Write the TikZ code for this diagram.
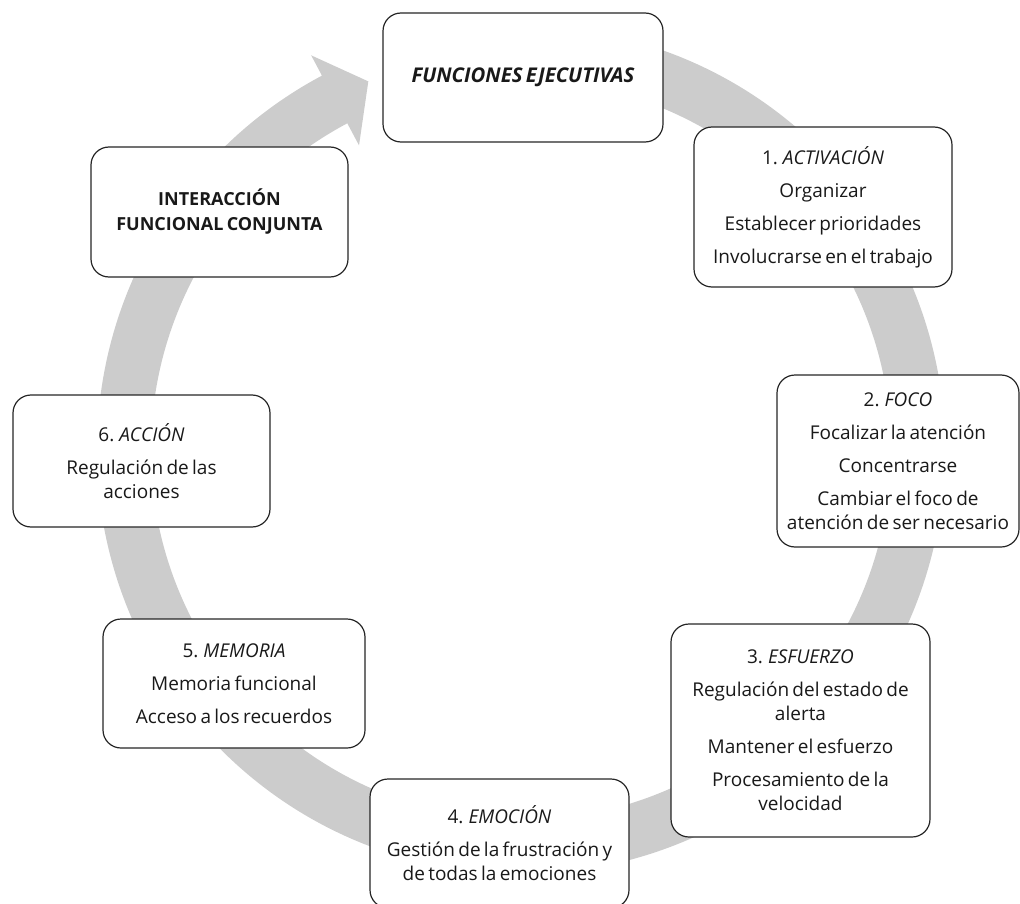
\documentclass[tikz,border=0pt]{standalone}
\usepackage{fontspec}
\setmainfont{Open Sans}
\usepackage{tikz}
\usetikzlibrary{shapes,arrows,positioning,calc}
\newcommand{\stagefont}{\fontsize{19}{24}\selectfont}
\newcommand{\titlefont}{\fontsize{20.3}{25}\selectfont}
\newcommand{\jointfont}{\fontsize{18}{25}\selectfont}
\tikzstyle{stage} = [rectangle, draw=black!85, line width=1.2pt, fill=white, inner sep=0pt, text width=258pt, text centered, text=black!90, rounded corners=18pt, minimum height=129pt, execute at begin node=\stagefont]
\tikzstyle{ring} = [fill=black!20]

\begin{document}
\begin{tikzpicture}[x=1pt, y=-1pt]
	\useasboundingbox (0,0) rectangle (1020,904);
	%Circular arrow behind the boxes
	\coordinate (Center) at (521,450);
	\fill [ring] ($(Center)+(-80:424)$) arc [start angle=-80, end angle=242, radius=424]
		-- ($(Center)+(242:447)$) -- ($(Center)+(247.5:399)$) -- ($(Center)+(242:345)$)
		-- ($(Center)+(242:370)$) arc [start angle=242, end angle=-80, radius=370] -- cycle;

	%Place nodes
	\node [stage, text width=280pt, execute at begin node=\titlefont] (Funciones) at (523,77.5) {\textbf{\textit{FUNCIONES EJECUTIVAS}}};
	\node [stage, minimum height=160pt] (Activacion) at (823,207) {1. \textit{ACTIVACIÓN}\\[9pt] Organizar\\[9pt] Establecer prioridades\\[9pt] Involucrarse en el trabajo};
	\node [stage, text width=242pt, minimum height=172pt] (Foco) at (898,461) {2. \textit{FOCO}\\[9pt] Focalizar la atención\\[9pt] Concentrarse\\[9pt] Cambiar el foco de\\ atención de ser necesario};
	\node [stage, text width=259pt, minimum height=213pt] (Esfuerzo) at (800.5,730.5) {3. \textit{ESFUERZO}\\[9pt] Regulación del estado de\\ alerta\\[9pt] Mantener el esfuerzo\\[9pt] Procesamiento de la\\ velocidad};
	\node [stage, text width=259pt] (Emocion) at (499.5,843.5) {4. \textit{EMOCIÓN}\\[9pt] Gestión de la frustración y\\ de todas la emociones};
	\node [stage, text width=262pt] (Memoria) at (234,683.5) {5. \textit{MEMORIA}\\[9pt] Memoria funcional\\[9pt] Acceso a los recuerdos};
	\node [stage, text width=257pt, minimum height=132pt] (Accion) at (141.5,461) {6. \textit{ACCIÓN}\\[9pt] Regulación de las\\ acciones};
	\node [stage, text width=257pt, minimum height=130pt, execute at begin node=\jointfont] (Interaccion) at (219.5,212) {\textbf{INTERACCIÓN\\ FUNCIONAL CONJUNTA}};

\end{tikzpicture}
\end{document}
